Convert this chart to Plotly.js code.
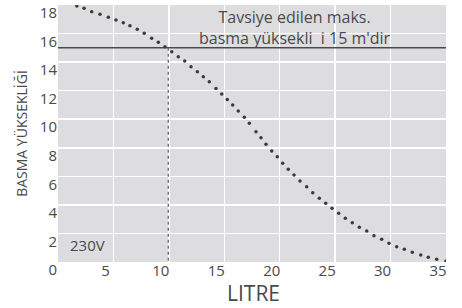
<!DOCTYPE html>
<html>
<head>
<meta charset="utf-8">
<script src="https://cdn.plot.ly/plotly-3.0.1.min.js"></script>
<style>html,body{margin:0;padding:0;background:#fff;}#chart{width:462px;height:308px;}</style>
</head>
<body>
<div id="chart"></div>
<script>
// Pump curve (230V): flow in litres vs. head (m)
const litre = [1.7, 2.35, 3.04, 3.79, 4.54, 5.23, 5.89, 6.49, 7.15, 7.78, 8.45, 9.05, 9.65, 10.26, 10.85, 11.43, 12.0, 12.57, 13.11, 13.65, 14.25, 14.77, 15.27, 15.76, 16.26, 16.81, 17.26, 17.86, 18.31, 18.76, 19.28, 19.78, 20.27, 20.77, 21.29, 21.83, 22.43, 22.98, 23.57, 24.15, 24.72, 25.32, 25.92, 26.55, 27.18, 27.85, 28.5, 29.2, 29.86, 30.55, 31.24, 31.96, 32.72, 33.4, 34.16, 35.0];
const head = [17.93, 17.77, 17.53, 17.35, 17.14, 16.95, 16.76, 16.55, 16.3, 16.02, 15.67, 15.39, 15.08, 14.73, 14.38, 14.08, 13.68, 13.33, 12.98, 12.63, 12.16, 11.76, 11.39, 10.99, 10.57, 10.13, 9.71, 9.12, 8.7, 8.24, 7.77, 7.37, 6.91, 6.49, 6.09, 5.67, 5.27, 4.85, 4.46, 4.11, 3.76, 3.41, 3.06, 2.75, 2.43, 2.17, 1.84, 1.59, 1.31, 1.07, 0.89, 0.68, 0.49, 0.33, 0.19, 0.07];
const maxHeadLine = {x: [0, 35], y: [15, 15]};
const crossLine = {x: [9.95, 9.95], y: [15, 0]};
const xTicks = [5, 10, 15, 20, 25, 30, 35];
const yTicks = [0, 2, 4, 6, 8, 10, 12, 14, 16, 18];
const noteText = "Tavsiye edilen maks.<br>basma yüksekli\u00a0\u00a0i 15 m'dir";
const voltText = "230V";
const xTitle = "LITRE";

const textColor = '#4a4a4c';
const traces = [
  {x: maxHeadLine.x, y: maxHeadLine.y, mode: 'lines', line: {color: '#4a4a4c', width: 1.5}, hoverinfo: 'skip'},
  {x: crossLine.x, y: crossLine.y, mode: 'lines', line: {color: '#6a6a6c', width: 1.3, dash: 'dot'}, hoverinfo: 'skip'},
  {x: litre, y: head, mode: 'markers', marker: {color: '#3a3a3c', size: 3.5}}
];
const layout = {
  width: 462, height: 308,
  margin: {l: 58, r: 16, t: 5, b: 46},
  paper_bgcolor: '#ffffff',
  plot_bgcolor: '#dddddf',
  showlegend: false,
  font: {family: 'Open Sans, sans-serif', color: textColor, size: 15},
  xaxis: {
    range: [0, 35], tickvals: xTicks, ticktext: xTicks.map(String),
    showgrid: true, gridcolor: '#ffffff', gridwidth: 1.5,
    zeroline: false, showline: false, ticks: '',
    ticklabelshift: -8, ticklabelstandoff: -2,
    tickfont: {size: 15, color: textColor}
  },
  yaxis: {
    range: [0, 18], tickvals: yTicks, ticktext: yTicks.map(String),
    showgrid: true, gridcolor: '#ffffff', gridwidth: 1.5,
    zeroline: false, showline: false, ticks: '',
    ticklabelshift: 8, ticklabeloverflow: 'allow',
    tickfont: {size: 15, color: textColor},
    title: {text: 'BASMA YÜKSEKLİĞİ', font: {size: 14, color: textColor}, standoff: 8}
  },
  annotations: [
    {x: 0.612, y: 0.914, xref: 'paper', yref: 'paper', text: noteText, showarrow: false,
     xanchor: 'center', yanchor: 'middle', borderpad: 0, font: {size: 16, color: textColor}},
    {x: 0.075, y: 0.06, xref: 'paper', yref: 'paper', text: voltText, showarrow: false,
     xanchor: 'center', yanchor: 'bottom', yshift: -9, borderpad: 0, font: {size: 15, color: textColor}},
    {x: 0.505, y: -0.179, xref: 'paper', yref: 'paper', text: xTitle, showarrow: false,
     xanchor: 'center', yanchor: 'bottom', borderpad: 0, font: {size: 21, color: textColor}}
  ]
};
Plotly.newPlot('chart', traces, layout, {displayModeBar: false, staticPlot: true});
</script>
</body>
</html>
